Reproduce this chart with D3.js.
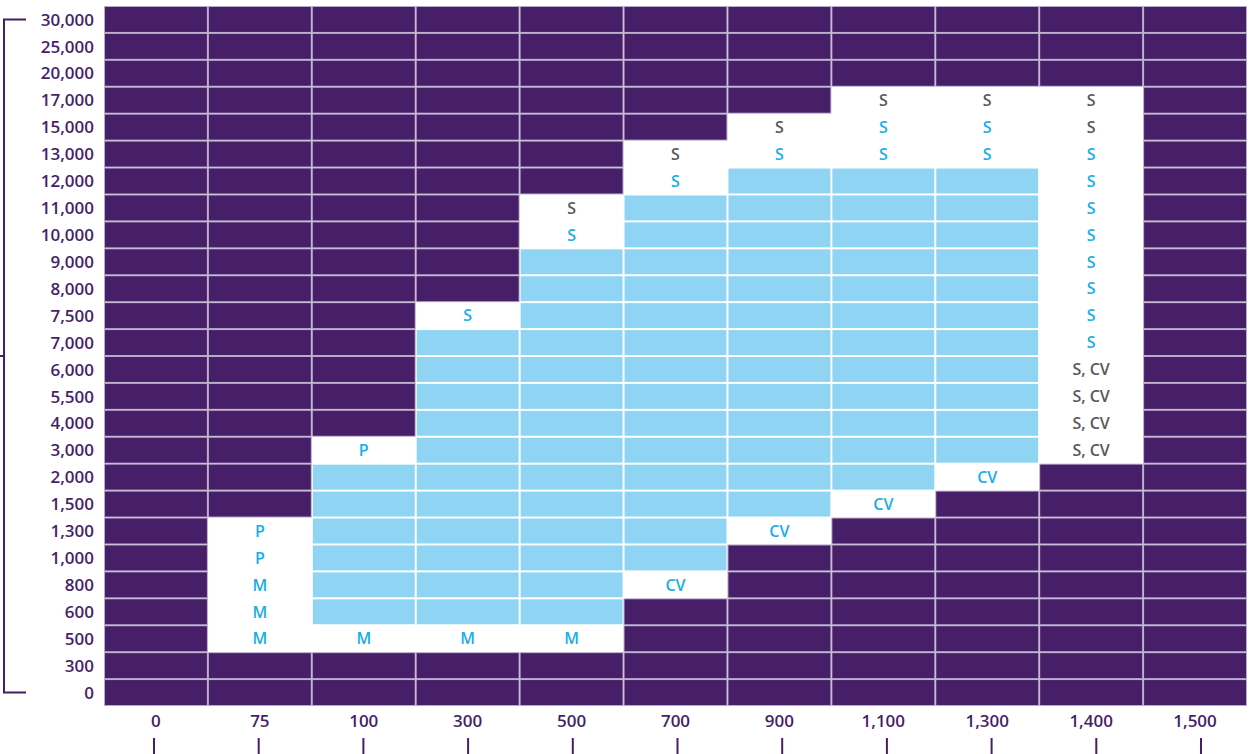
<!DOCTYPE html>
<html>
<head>
<meta charset="utf-8">
<script src="https://cdn.jsdelivr.net/npm/d3@7"></script>
<style>
  html, body { margin: 0; padding: 0; background: #ffffff; }
  svg { display: block; }
  text { font-family: "Open Sans", "Noto Sans", sans-serif; }
</style>
</head>
<body>
<svg id="chart" width="1254" height="754"></svg>
<script>
// ---- data ----
const columns = ["0", "75", "100", "300", "500", "700", "900", "1,100", "1,300", "1,400", "1,500"];
const rowLabels = ["30,000", "25,000", "20,000", "17,000", "15,000", "13,000", "12,000", "11,000",
  "10,000", "9,000", "8,000", "7,500", "7,000", "6,000", "5,500", "4,000", "3,000", "2,000",
  "1,500", "1,300", "1,000", "800", "600", "500", "300", "0"];

// blue filled ranges: [column, top row, bottom row]
const blueRanges = [
  ["100", "2,000", "600"],
  ["300", "7,000", "600"],
  ["500", "9,000", "600"],
  ["700", "11,000", "1,000"],
  ["900", "12,000", "1,500"],
  ["1,100", "12,000", "2,000"],
  ["1,300", "12,000", "3,000"]
];

// white labelled cells: [column, row, text, tone]  tone: "b" = blue, "g" = grey
const labelCells = [
  ["75", "1,300", "P", "b"], ["75", "1,000", "P", "b"], ["75", "800", "M", "b"], ["75", "600", "M", "b"], ["75", "500", "M", "b"],
  ["100", "3,000", "P", "b"], ["100", "500", "M", "b"],
  ["300", "7,500", "S", "b"], ["300", "500", "M", "b"],
  ["500", "11,000", "S", "g"], ["500", "10,000", "S", "b"], ["500", "500", "M", "b"],
  ["700", "13,000", "S", "g"], ["700", "12,000", "S", "b"], ["700", "800", "CV", "b"],
  ["900", "15,000", "S", "g"], ["900", "13,000", "S", "b"], ["900", "1,300", "CV", "b"],
  ["1,100", "17,000", "S", "g"], ["1,100", "15,000", "S", "b"], ["1,100", "13,000", "S", "b"], ["1,100", "1,500", "CV", "b"],
  ["1,300", "17,000", "S", "g"], ["1,300", "15,000", "S", "b"], ["1,300", "13,000", "S", "b"], ["1,300", "2,000", "CV", "b"],
  ["1,400", "17,000", "S", "g"], ["1,400", "15,000", "S", "g"], ["1,400", "13,000", "S", "b"], ["1,400", "12,000", "S", "b"],
  ["1,400", "11,000", "S", "b"], ["1,400", "10,000", "S", "b"], ["1,400", "9,000", "S", "b"], ["1,400", "8,000", "S", "b"],
  ["1,400", "7,500", "S", "b"], ["1,400", "7,000", "S", "b"],
  ["1,400", "6,000", "S, CV", "g"], ["1,400", "5,500", "S, CV", "g"], ["1,400", "4,000", "S, CV", "g"], ["1,400", "3,000", "S, CV", "g"]
];

// ---- styles ----
const PURPLE = "#471f69";
const PURPLE_LINE = "#b8abc9";
const BLUE_FILL = "#8fd4f3";
const BLUE_TEXT = "#19aee8";
const GREY_TEXT = "#58595b";

const svg = d3.select("#chart");

const x = d3.scaleBand().domain(columns).range([104, 1247]).paddingInner(0);
const y = d3.scaleBand().domain(rowLabels).range([6, 706]).paddingInner(0);
const tickX = d3.scalePoint().domain(columns).range([154, 1201]);

// build the cell table
const rowIndex = new Map(rowLabels.map((r, i) => [r, i]));
const cells = [];
columns.forEach(c => {
  rowLabels.forEach(r => {
    let kind = "p", text = "", tone = "";
    const ri = rowIndex.get(r);
    blueRanges.forEach(([bc, top, bot]) => {
      if (bc === c && ri >= rowIndex.get(top) && ri <= rowIndex.get(bot)) kind = "l";
    });
    labelCells.forEach(([lc, lr, t, tn]) => {
      if (lc === c && lr === r) { kind = "w"; text = t; tone = tn; }
    });
    cells.push({ c, r, kind, text, tone });
  });
});

const g = svg.append("g");

// purple cells with lavender seams
g.selectAll("rect.p").data(cells.filter(d => d.kind === "p")).join("rect")
  .attr("class", "p")
  .attr("x", d => x(d.c))
  .attr("y", d => y(d.r))
  .attr("width", x.bandwidth())
  .attr("height", y.bandwidth())
  .attr("fill", PURPLE_LINE);
g.selectAll("rect.pi").data(cells.filter(d => d.kind === "p")).join("rect")
  .attr("class", "pi")
  .attr("x", d => x(d.c) + 1)
  .attr("y", d => y(d.r) + 1)
  .attr("width", x.bandwidth() - 2)
  .attr("height", y.bandwidth() - 2)
  .attr("fill", PURPLE);

// light blue cells with white seams
g.selectAll("rect.l").data(cells.filter(d => d.kind === "l")).join("rect")
  .attr("class", "l")
  .attr("x", d => x(d.c) + 1)
  .attr("y", d => y(d.r) + 1)
  .attr("width", x.bandwidth() - 2)
  .attr("height", y.bandwidth() - 2)
  .attr("fill", BLUE_FILL);

// labels in white cells
g.selectAll("text.cell").data(cells.filter(d => d.kind === "w")).join("text")
  .attr("class", "cell")
  .attr("x", d => x(d.c) + x.bandwidth() / 2)
  .attr("y", d => y(d.r) + y.bandwidth() / 2)
  .attr("dy", "0.36em")
  .attr("text-anchor", "middle")
  .attr("font-size", 16)
  .attr("font-weight", 600)
  .attr("fill", d => d.tone === "b" ? BLUE_TEXT : GREY_TEXT)
  .text(d => d.text);

// y axis labels
svg.append("g").selectAll("text").data(rowLabels).join("text")
  .attr("x", 94)
  .attr("y", d => y(d) + y.bandwidth() / 2)
  .attr("dy", "0.36em")
  .attr("text-anchor", "end")
  .attr("font-size", 17)
  .attr("font-weight", 600)
  .attr("fill", PURPLE)
  .text(d => d);

// left bracket
const yTop = y(rowLabels[0]) + y.bandwidth() / 2;
const yBot = y(rowLabels[rowLabels.length - 1]) + y.bandwidth() / 2;
svg.append("path")
  .attr("d", `M26,${yTop}H4V${yBot}H26`)
  .attr("fill", "none")
  .attr("stroke", PURPLE)
  .attr("stroke-width", 2);
svg.append("line")
  .attr("x1", 0).attr("x2", 4)
  .attr("y1", (yTop + yBot) / 2).attr("y2", (yTop + yBot) / 2)
  .attr("stroke", PURPLE).attr("stroke-width", 2);

// x axis labels
svg.append("g").selectAll("text").data(columns).join("text")
  .attr("x", d => x(d) + x.bandwidth() / 2)
  .attr("y", 721)
  .attr("dy", "0.36em")
  .attr("text-anchor", "middle")
  .attr("font-size", 17)
  .attr("font-weight", 600)
  .attr("fill", PURPLE)
  .text(d => d);

// bottom tick marks
svg.append("g").selectAll("line").data(columns).join("line")
  .attr("x1", d => tickX(d)).attr("x2", d => tickX(d))
  .attr("y1", 738).attr("y2", 754)
  .attr("stroke", PURPLE)
  .attr("stroke-width", 2);
</script>
</body>
</html>
